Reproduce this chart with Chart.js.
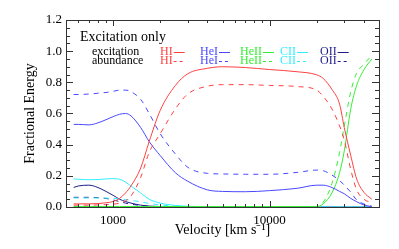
<!DOCTYPE html>
<html>
<head>
<meta charset="utf-8">
<script src="https://cdn.jsdelivr.net/npm/chart.js@4/dist/chart.umd.min.js"></script>
<style>
  html, body { margin: 0; padding: 0; background: #fff; }
</style>
</head>
<body>
<canvas id="energyChart" width="399" height="249"></canvas>
<script>
// velocity grid (km/s)
const velocity = [560, 600, 700, 800, 900, 1000, 1100, 1200, 1300, 1500, 1700, 2000, 2500, 3000,
                  4000, 5000, 7000, 10000, 15000, 20000, 22000, 25000, 28000, 30000, 33000, 36000, 40000, 45000];

// fractional energy, excitation (solid) and abundance (dashed)
const hiExc   = [0.02, 0.02, 0.02, 0.022, 0.027, 0.035, 0.055, 0.09, 0.135, 0.25, 0.42, 0.62, 0.78, 0.855,
                 0.89, 0.90, 0.895, 0.882, 0.868, 0.848, 0.825, 0.755, 0.66, 0.51, 0.33, 0.18, 0.095, 0.05];
const hiAbu   = [0.012, 0.012, 0.012, 0.013, 0.015, 0.018, 0.025, 0.04, 0.07, 0.19, 0.35, 0.47, 0.63, 0.725,
                 0.775, 0.785, 0.785, 0.78, 0.773, 0.75, 0.71, 0.63, 0.52, 0.43, 0.24, 0.11, 0.05, 0.028];
const heiExc  = [0.53, 0.53, 0.527, 0.54, 0.56, 0.58, 0.595, 0.60, 0.585, 0.51, 0.42, 0.33, 0.22, 0.165,
                 0.11, 0.10, 0.098, 0.105, 0.12, 0.14, 0.14, 0.125, 0.10, 0.085, 0.055, 0.034, 0.013, 0.002];
const heiAbu  = [0.722, 0.722, 0.725, 0.73, 0.735, 0.742, 0.75, 0.75, 0.74, 0.69, 0.60, 0.47, 0.34, 0.255,
                 0.216, 0.212, 0.21, 0.21, 0.222, 0.237, 0.233, 0.205, 0.17, 0.14, 0.095, 0.045, 0.02, 0.005];
const heiiExc = [0.003, 0.003, 0.003, 0.003, 0.003, 0.003, 0.003, 0.003, 0.003, 0.003, 0.003, 0.003, 0.003, 0.003,
                 0.003, 0.003, 0.003, 0.003, 0.003, 0.003, 0.02, 0.09, 0.22, 0.36, 0.63, 0.78, 0.88, 0.95];
const heiiAbu = [0.003, 0.003, 0.003, 0.003, 0.003, 0.003, 0.003, 0.003, 0.003, 0.003, 0.003, 0.003, 0.003, 0.003,
                 0.003, 0.003, 0.003, 0.003, 0.003, 0.003, 0.03, 0.15, 0.35, 0.52, 0.74, 0.86, 0.915, 0.975];
const ciiExc  = [0.18, 0.178, 0.175, 0.176, 0.18, 0.182, 0.178, 0.16, 0.135, 0.09, 0.05, 0.025, 0.01, 0.005,
                 0.002, 0, 0, 0, 0, 0, 0, 0, 0, 0, 0, 0, 0, 0];
const ciiAbu  = [0.058, 0.058, 0.058, 0.058, 0.057, 0.055, 0.052, 0.048, 0.043, 0.033, 0.023, 0.013, 0.006, 0.003,
                 0.001, 0, 0, 0, 0, 0, 0, 0, 0, 0, 0, 0, 0, 0];
const oiiExc  = [0.125, 0.135, 0.14, 0.125, 0.10, 0.075, 0.05, 0.035, 0.025, 0.012, 0.006, 0.003, 0.001, 0,
                 0, 0, 0, 0, 0, 0, 0, 0, 0, 0, 0, 0, 0, 0];
const oiiAbu  = [0.062, 0.062, 0.062, 0.06, 0.055, 0.045, 0.035, 0.025, 0.018, 0.01, 0.005, 0.002, 0.001, 0,
                 0, 0, 0, 0, 0, 0, 0, 0, 0, 0, 0, 0, 0, 0];

const elements = ['HI', 'HeI', 'HeII', 'CII', 'OII'];
const excSeries = [hiExc, heiExc, heiiExc, ciiExc, oiiExc];
const abuSeries = [hiAbu, heiAbu, heiiAbu, ciiAbu, oiiAbu];
const colors = ['#ff4040', '#4848ff', '#33ee33', '#30eeff', '#1c1c8a'];

const panelTitle = 'Excitation only';
const rowLabels = ['excitation', 'abundance'];

// axis ticks
const xTickValues = [500, 600, 700, 800, 900, 1000, 2000, 3000, 4000, 5000, 6000, 7000, 8000, 9000,
                     10000, 20000, 30000, 40000, 50000];
const xLabelled = [1000, 10000];

const serif = '"Liberation Serif", serif';

const datasets = [];
elements.forEach((el, i) => {
    datasets.push({
        label: el + ' excitation',
        data: velocity.map((v, k) => ({ x: v, y: excSeries[i][k] })),
        borderColor: colors[i],
        borderWidth: 1,
        pointRadius: 0,
        cubicInterpolationMode: 'monotone'
    });
    datasets.push({
        label: el + ' abundance',
        data: velocity.map((v, k) => ({ x: v, y: abuSeries[i][k] })),
        borderColor: colors[i],
        borderWidth: 1,
        borderDash: [5, 5],
        pointRadius: 0,
        cubicInterpolationMode: 'monotone'
    });
});

// IDL-style inward tick marks on all four sides + frame
const frameTicks = {
    id: 'frameTicks',
    afterDraw(chart) {
        const { ctx, chartArea: a, scales: { x, y } } = chart;
        ctx.save();
        ctx.strokeStyle = '#333';
        ctx.lineWidth = 1;
        ctx.beginPath();
        xTickValues.forEach(v => {
            const px = Math.round(x.getPixelForValue(v)) + 0.5;
            const len = xLabelled.includes(v) ? 6 : 3;
            ctx.moveTo(px, a.bottom); ctx.lineTo(px, a.bottom - len);
            ctx.moveTo(px, a.top); ctx.lineTo(px, a.top + len);
        });
        for (let k = 0; k <= 24; k++) {
            const py = Math.round(y.getPixelForValue(k * 0.05)) + 0.5;
            const len = k % 4 === 0 ? 7 : 4;
            ctx.moveTo(a.left, py); ctx.lineTo(a.left + len, py);
            ctx.moveTo(a.right, py); ctx.lineTo(a.right - len, py);
        }
        ctx.stroke();
        ctx.strokeRect(Math.round(a.left) + 0.5, Math.round(a.top) + 0.5,
                       Math.round(a.right - a.left), Math.round(a.bottom - a.top));
        ctx.restore();
    }
};

// title and key text inside the panel
const keyText = {
    id: 'keyText',
    afterDraw(chart) {
        const ctx = chart.ctx;
        ctx.save();
        ctx.textBaseline = 'middle';
        ctx.fillStyle = '#000';
        ctx.font = '14px ' + serif;
        ctx.fillText(panelTitle, 80, 37);
        ctx.font = '12px ' + serif;
        const rows = [52, 61];
        rowLabels.forEach((t, r) => ctx.fillText(t, 92, rows[r]));
        elements.forEach((el, i) => {
            const x0 = 160 + 40 * i;
            rows.forEach((yy, r) => {
                ctx.fillStyle = colors[i];
                ctx.fillText(el, x0, yy);
                const w = ctx.measureText(el).width;
                ctx.strokeStyle = colors[i];
                ctx.lineWidth = 1;
                ctx.setLineDash(r ? [3, 3] : []);
                ctx.beginPath();
                ctx.moveTo(x0 + w + 1, Math.round(yy) + 0.5);
                ctx.lineTo(x0 + w + 12, Math.round(yy) + 0.5);
                ctx.stroke();
            });
        });
        ctx.restore();
    }
};

const config = {
    type: 'line',
    data: { datasets: datasets },
    options: {
        responsive: false,
        animation: false,
        devicePixelRatio: 1,
        layout: { padding: { top: 20, right: 20, left: 0, bottom: 0 } },
        plugins: {
            legend: { display: false },
            tooltip: { enabled: false },
            title: { display: false }
        },
        scales: {
            x: {
                type: 'logarithmic',
                min: 500,
                max: 50000,
                grid: { display: false, drawTicks: false },
                border: { display: false },
                afterBuildTicks: scale => { scale.ticks = xTickValues.map(v => ({ value: v })); },
                afterFit: scale => { scale.height = 42; },
                ticks: {
                    autoSkip: false,
                    maxRotation: 0,
                    padding: 6,
                    color: '#000',
                    font: { family: serif, size: 13 },
                    callback: v => xLabelled.includes(v) ? String(v) : ''
                },
                title: {
                    display: true,
                    text: 'Velocity [km s\u207B\u00B9]',
                    color: '#000',
                    font: { family: serif, size: 14 },
                    padding: { top: 0, bottom: 10 }
                }
            },
            y: {
                min: 0,
                max: 1.2,
                grid: { display: false, drawTicks: false },
                border: { display: false },
                afterFit: scale => { scale.width = 66; },
                ticks: {
                    stepSize: 0.2,
                    padding: 4,
                    color: '#000',
                    font: { family: serif, size: 13 },
                    callback: v => v.toFixed(1)
                },
                title: {
                    display: true,
                    text: 'Fractional Energy',
                    color: '#000',
                    font: { family: serif, size: 14 },
                    padding: { top: 22, bottom: 0 }
                }
            }
        }
    },
    plugins: [frameTicks, keyText]
};

const ctx = document.getElementById('energyChart').getContext('2d');
new Chart(ctx, config);
</script>
</body>
</html>
